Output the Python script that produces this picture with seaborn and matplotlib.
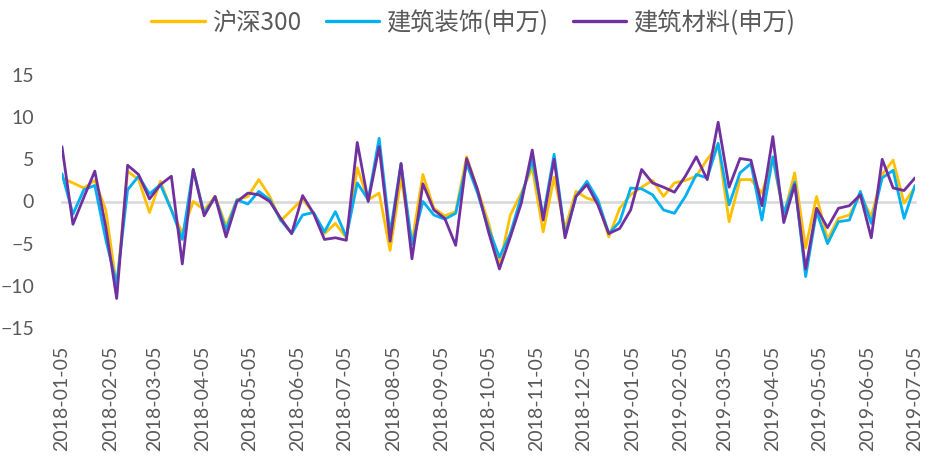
import numpy as np
import pandas as pd
import matplotlib
matplotlib.use("Agg")
import matplotlib.pyplot as plt
import matplotlib.dates as mdates
from matplotlib.font_manager import FontProperties
import seaborn as sns

# ---- data (weekly, 2018-01-05 .. 2019-07-05) ----
start_date = "2018-01-05"
n_weeks = 79
dates = pd.date_range(start_date, periods=n_weeks, freq="7D")

hs300 = [2.8, 2.2, 1.6, 2.5, -1.0, -10.1, 3.6, 2.6, -1.3, 2.4,
         -1.0, -3.7, 0.0, -1.0, 0.6, -2.9, 0.2, 0.6, 2.6, 0.6,
         -2.3, -1.0, 0.3, -1.4, -3.8, -2.6, -4.3, 4.0, 0.2, 1.0,
         -5.8, 2.8, -4.9, 3.2, -0.8, -1.7, -1.2, 5.3, 1.4, -2.5,
         -7.6, -1.6, 1.0, 4.0, -3.6, 2.9, -3.2, 1.2, 0.4, 0.0,
         -4.2, -0.8, 0.8, 1.7, 2.5, 0.6, 2.2, 2.5, 3.0, 5.0,
         6.7, -2.4, 2.6, 2.6, 1.0, 5.1, -1.6, 3.4, -5.5, 0.6,
         -4.5, -2.0, -1.6, 0.8, -1.8, 3.2, 4.9, -0.2, 1.7]

decoration = [3.3, -1.5, 1.4, 1.9, -4.5, -9.8, 1.4, 3.0, 0.9, 2.0,
              -1.0, -4.5, 3.8, -1.4, 0.5, -3.4, 0.2, -0.3, 1.2, 0.2,
              -2.2, -3.8, -1.6, -1.3, -3.6, -1.2, -4.2, 2.2, 0.2, 7.5,
              -3.8, 4.5, -5.1, 0.0, -1.6, -2.1, -1.4, 4.5, 1.0, -3.2,
              -6.6, -3.8, 0.6, 4.9, -1.8, 5.6, -4.0, 0.6, 2.4, 0.2,
              -3.8, -2.4, 1.6, 1.5, 0.8, -1.0, -1.4, 0.6, 3.2, 2.8,
              6.9, -0.4, 3.4, 4.5, -2.2, 5.3, -1.4, 2.3, -8.9, -1.2,
              -5.0, -2.4, -2.2, 1.2, -2.6, 2.8, 3.7, -2.0, 1.9]

materials = [6.5, -2.7, 0.5, 3.6, -3.0, -11.5, 4.3, 3.2, 0.3, 2.0,
             3.0, -7.4, 3.8, -1.7, 0.6, -4.2, 0.0, 1.0, 0.8, 0.0,
             -2.0, -3.8, 0.7, -1.4, -4.5, -4.3, -4.6, 7.0, 0.0, 6.5,
             -4.7, 4.5, -6.8, 2.1, -1.0, -2.0, -5.2, 5.1, 1.4, -3.6,
             -8.0, -4.2, -0.2, 6.1, -2.2, 5.0, -4.3, 0.6, 2.0, -0.4,
             -3.8, -3.2, -1.0, 3.8, 2.2, 1.7, 1.1, 3.0, 5.3, 2.6,
             9.4, 1.7, 5.1, 4.9, -0.5, 7.7, -2.5, 2.0, -8.0, -0.8,
             -3.1, -0.8, -0.5, 0.8, -4.3, 5.0, 1.6, 1.3, 2.8]

series_names = ["沪深300", "建筑装饰(申万)", "建筑材料(申万)"]
series_colors = ["#FFC000", "#00B0F0", "#7030A0"]
y_ticks = [-15, -10, -5, 0, 5, 10, 15]

df = pd.concat([
    pd.DataFrame({"date": dates, "value": vals, "series": name})
    for name, vals in zip(series_names, [hs300, decoration, materials])
], ignore_index=True)

# ---- style ----
sns.set_theme(style="white")
plt.rcParams["font.family"] = ["Lato", "Noto Sans CJK SC", "DejaVu Sans"]

W, H = 928, 458
fig = plt.figure(figsize=(W / 100, H / 100), dpi=100)
ax = fig.add_axes([62 / W, 1 - 328 / H, (915 - 62) / W, (328 - 75) / H])

sns.lineplot(data=df, x="date", y="value", hue="series",
             hue_order=series_names,
             palette=dict(zip(series_names, series_colors)),
             linewidth=2.0, ax=ax, legend=True, zorder=3)

ax.set_xlim(dates[0], dates[-1])
ax.set_ylim(-15, 15)
ax.set_yticks(y_ticks)
ax.set_xlabel("")
ax.set_ylabel("")

for s in ["top", "right", "left"]:
    ax.spines[s].set_visible(False)
ax.spines["bottom"].set_position(("data", 0))
ax.spines["bottom"].set_color("#D9D9D9")
ax.spines["bottom"].set_linewidth(1.9)
ax.spines["bottom"].set_zorder(2)

ax.xaxis.set_major_locator(mdates.MonthLocator(bymonthday=5))
ax.xaxis.set_major_formatter(mdates.DateFormatter("%Y-%m-%d"))
ax.tick_params(axis="x", direction="out", length=5, width=1.6,
               color="#D9D9D9", pad=99, labelsize=14,
               labelcolor="#595959", rotation=90)
ax.tick_params(axis="y", length=0, pad=20, labelsize=14,
               labelcolor="#595959")
for lbl in ax.get_xticklabels():
    lbl.set_va("top")
for lbl in ax.get_yticklabels():
    lbl.set_ha("right")

# ---- legend ----
handles, labels = ax.get_legend_handles_labels()
for h in handles:
    h.set_linewidth(2.4)
ax.legend_.remove()
fig.legend(handles, labels, loc="center", bbox_to_anchor=(0.51, 1 - 23 / H),
           ncol=3, frameon=False,
           prop=FontProperties(family=["Noto Sans CJK SC", "DejaVu Sans"], size=17.5),
           labelcolor="#595959", handlelength=2.2, handletextpad=0.3,
           columnspacing=1.0)

fig.savefig("out.png", dpi=100)
